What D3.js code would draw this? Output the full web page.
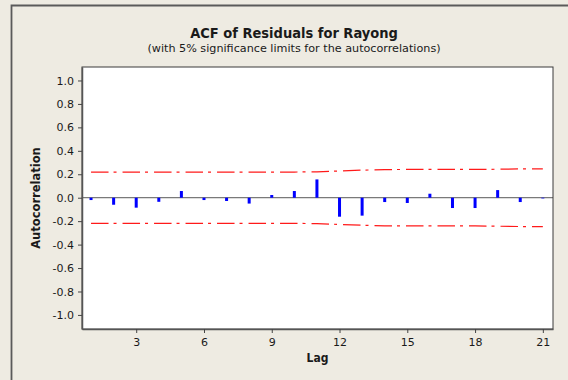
<!DOCTYPE html>
<html>
<head>
<meta charset="utf-8">
<script src="https://cdn.jsdelivr.net/npm/d3@7"></script>
<style>
  body { margin: 0; background: #eeebe2; }
  svg text { font-family: "DejaVu Sans", sans-serif; fill: #1a1a1a; }
  svg text.narrow { font-family: "DejaVu Sans Condensed", "DejaVu Sans", sans-serif; font-stretch: condensed; }
</style>
</head>
<body>
<div id="chart"></div>
<script>
//-------------------DATA--------------------------
var lags = [1, 2, 3, 4, 5, 6, 7, 8, 9, 10, 11, 12, 13, 14, 15, 16, 17, 18, 19, 20, 21];
var acf = [-0.020, -0.060, -0.085, -0.035, 0.057, -0.020, -0.028, -0.050, 0.023, 0.057,
           0.156, -0.162, -0.153, -0.037, -0.045, 0.034, -0.088, -0.088, 0.065, -0.037, -0.006];
var upperLimit = [0.219, 0.219, 0.219, 0.219, 0.219, 0.219, 0.219, 0.219, 0.219, 0.219,
                  0.221, 0.228, 0.235, 0.240, 0.241, 0.241, 0.241, 0.241, 0.243, 0.246, 0.246];
var lowerLimit = [-0.219, -0.219, -0.219, -0.219, -0.219, -0.219, -0.219, -0.219, -0.219, -0.219,
                  -0.221, -0.228, -0.235, -0.240, -0.241, -0.241, -0.241, -0.241, -0.243, -0.246, -0.246];
var xTicks = [3, 6, 9, 12, 15, 18, 21];
var yTicks = [1.0, 0.8, 0.6, 0.4, 0.2, 0.0, -0.2, -0.4, -0.6, -0.8, -1.0];

//-------------------SET-UP--------------------------
var width = 568;
var height = 380;
var plot = {left: 82, right: 553, top: 67, bottom: 329};

var svg = d3.select("#chart")
    .append("svg")
    .attr("width", width)
    .attr("height", height);

// window background and frame
svg.append("rect")
    .attr("width", width)
    .attr("height", height)
    .attr("fill", "#eeebe2");

svg.append("path")
    .attr("d", "M11.5," + height + "V5.5H" + width)
    .attr("fill", "none")
    .attr("stroke", "#5a5a5a")
    .attr("stroke-width", 1.8);

// Scales
var xScale = d3.scaleLinear().domain([0.6, 21.45]).range([plot.left, plot.right]);
var yScale = d3.scaleLinear().domain([-1.12, 1.115]).range([plot.bottom, plot.top]);

// plot area
svg.append("rect")
    .attr("x", plot.left)
    .attr("y", plot.top)
    .attr("width", plot.right - plot.left)
    .attr("height", plot.bottom - plot.top)
    .attr("fill", "white");

// zero line
svg.append("line")
    .attr("x1", plot.left)
    .attr("x2", plot.right)
    .attr("y1", yScale(0))
    .attr("y2", yScale(0))
    .attr("stroke", "#7a7a7a")
    .attr("stroke-width", 1.3);

// significance limits
var limitLine = d3.line()
    .x(function(d, i) { return xScale(lags[i]); })
    .y(function(d) { return yScale(d); });

[upperLimit, lowerLimit].forEach(function(lim) {
    svg.append("path")
        .attr("d", limitLine(lim))
        .attr("fill", "none")
        .attr("stroke", "#ff1a1a")
        .attr("stroke-width", 1.2)
        .attr("stroke-dasharray", "17.5,5,3,6");
});

// acf bars
svg.selectAll("rect.bar")
    .data(acf)
    .enter()
    .append("rect")
    .attr("class", "bar")
    .attr("x", function(d, i) { return xScale(lags[i]) - 1.5; })
    .attr("width", 3)
    .attr("y", function(d) { return yScale(Math.max(0, d)); })
    .attr("height", function(d) { return Math.abs(yScale(d) - yScale(0)); })
    .attr("fill", "#0000ff");

// plot border
svg.append("rect")
    .attr("x", plot.left)
    .attr("y", plot.top)
    .attr("width", plot.right - plot.left)
    .attr("height", plot.bottom - plot.top)
    .attr("fill", "none")
    .attr("stroke", "#3a3a3a")
    .attr("stroke-width", 1);

// Axes (plain hyphen for negatives, like the original)
var oneDec = d3.format(".1f");
var xAxis = d3.axisBottom(xScale)
    .tickValues(xTicks)
    .tickSize(4)
    .tickSizeOuter(0)
    .tickPadding(5)
    .tickFormat(d3.format("d"));

var yAxis = d3.axisLeft(yScale)
    .tickValues(yTicks)
    .tickSize(4)
    .tickSizeOuter(0)
    .tickPadding(4)
    .tickFormat(function(d) { return oneDec(d).replace("\u2212", "-"); });

var gx = svg.append("g")
    .attr("transform", "translate(0," + plot.bottom + ")")
    .call(xAxis);

var gy = svg.append("g")
    .attr("transform", "translate(" + plot.left + ",0)")
    .call(yAxis);

[gx, gy].forEach(function(g) {
    g.select(".domain").attr("stroke", "#555").attr("stroke-width", 1.5);
    g.selectAll(".tick line").attr("stroke", "#444");
    g.selectAll(".tick text")
        .style("font-family", "'DejaVu Sans', sans-serif")
        .style("font-size", "11px")
        .attr("fill", "#1a1a1a");
});

// Titles & labels
svg.append("text")
    .attr("class", "narrow")
    .attr("x", 294)
    .attr("y", 38)
    .attr("text-anchor", "middle")
    .style("font-size", "14.5px")
    .style("font-weight", "bold")
    .text("ACF of Residuals for Rayong");

svg.append("text")
    .attr("x", 294)
    .attr("y", 52)
    .attr("text-anchor", "middle")
    .style("font-size", "11.2px")
    .text("(with 5% significance limits for the autocorrelations)");

svg.append("text")
    .attr("class", "narrow")
    .attr("x", (plot.left + plot.right) / 2)
    .attr("y", 362)
    .attr("text-anchor", "middle")
    .style("font-size", "12px")
    .style("font-weight", "bold")
    .text("Lag");

svg.append("text")
    .attr("transform", "translate(39.5," + ((plot.top + plot.bottom) / 2) + ") rotate(-90)")
    .attr("text-anchor", "middle")
    .style("font-size", "11.5px")
    .style("font-weight", "bold")
    .text("Autocorrelation");
</script>
</body>
</html>
